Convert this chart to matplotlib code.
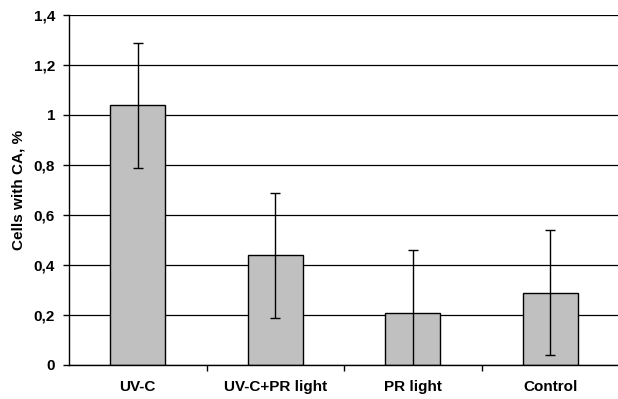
import matplotlib
matplotlib.use("Agg")
import matplotlib.pyplot as plt
import numpy as np

categories = ["UV-C", "UV-C+PR light", "PR light", "Control"]
values = [1.04, 0.44, 0.21, 0.29]
errors = [0.25, 0.25, 0.25, 0.25]
yticks = [0, 0.2, 0.4, 0.6, 0.8, 1.0, 1.2, 1.4]
ytick_labels = ["0", "0,2", "0,4", "0,6", "0,8", "1", "1,2", "1,4"]

plt.rcParams['font.family'] = ['Liberation Sans', 'DejaVu Sans']

fig = plt.figure(figsize=(6.18, 3.99), dpi=100)
ax = fig.add_axes([69/618, 1 - 365/399, 550/618, 350/399])

x = np.arange(len(categories))
ax.set_axisbelow(True)
ax.yaxis.grid(True, color='black', linewidth=0.9)
ax.bar(x, values, width=0.4, color='#c0c0c0', edgecolor='black', linewidth=1, zorder=2)
ax.errorbar(x, values, yerr=errors, fmt='none', ecolor='black', elinewidth=1,
            capsize=3.5, capthick=1, zorder=3)

ax.set_xlim(-0.5, len(categories) - 0.5)
ax.set_ylim(0, 1.4)
ax.set_yticks(yticks)
ax.set_yticklabels(ytick_labels, fontsize=11, fontweight='bold')
ax.set_xticks(x)
ax.set_xticklabels(categories, fontsize=11, fontweight='bold')
ax.tick_params(axis='x', length=0, pad=11)
ax.set_xticks(np.arange(0.5, len(categories) - 0.5, 1), minor=True)
ax.tick_params(axis='x', which='minor', length=4, width=1, direction='out')
ax.tick_params(axis='y', length=4, width=1, direction='out', pad=6)

for s in ['top', 'right']:
    ax.spines[s].set_visible(False)
ax.spines['left'].set_linewidth(1)
ax.spines['bottom'].set_linewidth(1)

ax.set_ylabel("Cells with CA, %", fontsize=11, fontweight='bold', labelpad=6)

fig.savefig("out.png", dpi=100)
